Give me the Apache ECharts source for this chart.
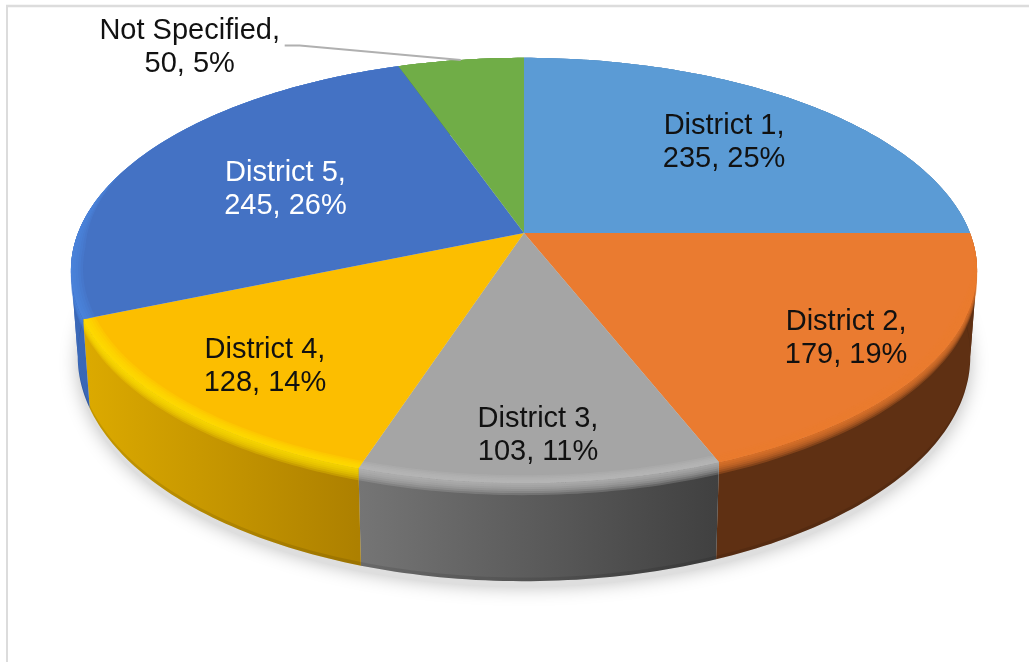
<!DOCTYPE html>
<html>
<head>
<meta charset="utf-8">
<style>html,body{margin:0;padding:0;background:#fff}#c{width:1029px;height:662px}</style>
<script src="https://cdn.jsdelivr.net/npm/echarts@6/dist/echarts.min.js"></script>
</head>
<body>
<div id="c"></div>
<script>
// ---- data ----
const categories = ['District 1', 'District 2', 'District 3', 'District 4', 'District 5', 'Not Specified'];
const values = [235, 179, 103, 128, 245, 50];

// ---- style ----
const faceColors = ['#5b9bd5', '#ea7b30', '#a5a5a5', '#fcbe00', '#4472c4', '#70ad47'];
const rimColors  = ['#5b9bd5', '#ea7b30', '#b9b9b9', '#ffe000', '#4f86e2', '#70ad47'];
const wallStops  = [['#3f6f9c', '#34597c'], ['#5f3013', '#5f3013'], ['#757575', '#404040'],
                    ['#dcaa00', '#ad8000'], ['#3a68b8', '#34599c'], ['#4f7a32', '#4f7a32']];
const textColors = ['#111', '#111', '#111', '#111', '#fff', '#111'];
// label placement relative to the projected slice mid point
const labelShift = [[24, -9], [87, 31], [5, 64], [-63, 35], [-4, 5], [-294, -75]];

// ---- projection of a tilted disc, with perspective ----
const CX = 524, CY = 233, RX = 446, RY = 206, PERSP = 0.176, DEPTH = 84, BOTTOM_SCALE = 0.985, BEVEL = 10;
const FOLD_R = Math.acos(-PERSP) * 180 / Math.PI, FOLD_L = 360 - FOLD_R;
const total = values.reduce((a, b) => a + b, 0);
const starts = [];
values.reduce((sum, v, i) => { starts[i] = sum; return sum + v; }, 0);

function project(deg, r, z, s) {
  const t = deg * Math.PI / 180;
  const X = r * Math.sin(t), Y = -r * Math.cos(t), w = 1 - PERSP * Y;
  return [CX + s * RX * X / w, CY + s * RY * Y / w + z / w];
}
function angleRange(i) {
  return [starts[i] / total * 360, (starts[i] + values[i]) / total * 360];
}
function arc(a0, a1, fn) {
  const pts = [], n = Math.max(2, Math.ceil(Math.abs(a1 - a0)));
  for (let k = 0; k <= n; k++) { const d = a0 + (a1 - a0) * k / n; pts.push(fn(d)); }
  return pts;
}
function band(a0, a1, fnA, fnB) {
  return arc(a0, a1, fnA).concat(arc(a1, a0, fnB));
}
function poly(points, fill, opacity) {
  return { type: 'polygon', silent: true, shape: { points }, style: { fill, opacity: opacity == null ? 1 : opacity } };
}
// the silhouette of the wall turns at the two fold angles: split a range there
function pieces(a0, a1) {
  const cuts = [a0];
  [FOLD_R, FOLD_L].forEach(f => { if (f > a0 && f < a1) cuts.push(f); });
  cuts.push(a1);
  return cuts.slice(1).map((c, k) => [cuts[k], c]);
}

function renderShadow() {
  const pts = arc(0, 360, d => { const p = project(d, 1, DEPTH, BOTTOM_SCALE); return [p[0], p[1] + 6]; });
  const el = poly(pts, '#dedede');
  el.style.shadowBlur = 18;
  el.style.shadowColor = 'rgba(0,0,0,0.25)';
  return el;
}
function renderWall(params, api) {
  const i = params.dataIndex;
  const [a0, a1] = angleRange(i);
  const stops = wallStops[i];
  const xs = arc(a0, a1, d => project(d, 1, 0, 1)[0]);
  const grad = new echarts.graphic.LinearGradient(Math.min(...xs), 0, Math.max(...xs), 0, [
    { offset: 0, color: stops[0] }, { offset: 1, color: stops[1] }], true);
  const children = [];
  pieces(a0, a1).forEach(([p0, p1]) => {
    children.push(poly(band(p0, p1, d => project(d, 1, 0, 1), d => project(d, 1, DEPTH, BOTTOM_SCALE)), grad));
  });
  // darker edge along the foot of the wall
  children.push(poly(band(a0, a1, d => project(d, 1, DEPTH - 3, BOTTOM_SCALE), d => project(d, 1, DEPTH, BOTTOM_SCALE)), '#000', 0.1));
  // outer bevel: highlight fading into the wall
  const layers = 6;
  for (let k = layers; k >= 1; k--) {
    const z = BEVEL * k / layers;
    pieces(a0, a1).forEach(([p0, p1]) => {
      children.push(poly(band(p0, p1, d => project(d, 1, 0, 1), d => project(d, 1, z, 1)), rimColors[i], 0.26));
    });
  }
  return { type: 'group', children };
}
function taper(d) {
  const up = Math.min(1, Math.max(0, (d - 92) / 22));
  const down = Math.min(1, Math.max(0, (288 - d) / 22));
  return Math.min(up, down);
}
function renderFace(params, api) {
  const i = params.dataIndex;
  const [a0, a1] = angleRange(i);
  const children = [];
  children.push(poly([[CX, CY]].concat(arc(a0, a1, d => project(d, 1, 0, 1))), faceColors[i]));
  // inner bevel: face colour rising to the rim highlight
  const b0 = Math.max(a0, 92), b1 = Math.min(a1, 288);
  if (b1 > b0) {
    const layers = 5, width = 0.026;
    for (let k = layers; k >= 1; k--) {
      const rk = width * k / layers;
      children.push(poly(band(b0, b1, d => project(d, 1, 0, 1), d => project(d, 1 - rk * taper(d), 0, 1)), rimColors[i], 0.26));
    }
  }
  return { type: 'group', children };
}
function renderLabel(params, api) {
  const i = params.dataIndex;
  const [a0, a1] = angleRange(i);
  const mid = (a0 + a1) / 2;
  const p = project(mid, 0.6, 0, 1);
  const x = p[0] + labelShift[i][0], y = p[1] + labelShift[i][1];
  const value = api.value(0);
  const pct = Math.round(value / total * 100);
  const children = [{
    type: 'text', silent: true,
    style: {
      x, y, text: categories[i] + ',\n' + value + ', ' + pct + '%',
      fill: textColors[i], fontFamily: '"Liberation Sans", Arial, sans-serif', fontSize: 29,
      lineHeight: 33, align: 'center', verticalAlign: 'middle'
    }
  }];
  if (categories[i] === 'Not Specified') {
    const end = project(mid, 1, 0, 1);
    children.push({
      type: 'polyline', silent: true,
      shape: { points: [[x + 95, y - 2], [x + 110, y - 2], end] },
      style: { fill: 'none', stroke: '#b0b0b0', lineWidth: 2 }
    });
  }
  return { type: 'group', children };
}

const seriesData = values.map(v => [v]);
const chart = echarts.init(document.getElementById('c'), null, { renderer: 'canvas' });
chart.setOption({
  animation: false,
  backgroundColor: '#fff',
  tooltip: { show: false },
  graphic: [
    { type: 'line', silent: true, shape: { x1: 6, y1: 6, x2: 1029, y2: 6 }, style: { stroke: '#dcdcdc', lineWidth: 2.5 } },
    { type: 'line', silent: true, shape: { x1: 7, y1: 6, x2: 7, y2: 662 }, style: { stroke: '#dcdcdc', lineWidth: 2 } }
  ],
  series: [
    { type: 'custom', name: 'shadow', coordinateSystem: 'none', silent: true, data: [[total]], renderItem: renderShadow },
    { type: 'custom', name: 'walls', coordinateSystem: 'none', silent: true, data: seriesData, renderItem: renderWall },
    { type: 'custom', name: 'slices', coordinateSystem: 'none', silent: true, data: seriesData, renderItem: renderFace },
    { type: 'custom', name: 'labels', coordinateSystem: 'none', silent: true, data: seriesData, renderItem: renderLabel }
  ]
});
</script>
</body>
</html>
